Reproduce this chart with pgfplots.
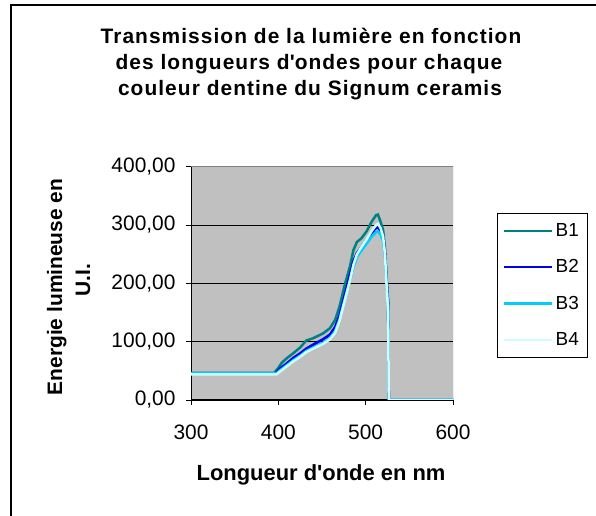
\documentclass[border=0pt]{standalone}
\usepackage{pgfplots}
\pgfplotsset{compat=1.18}
\usepackage{fontspec}
\setmainfont{Liberation Sans}
\newfontfamily\titlefont[LetterSpace=5]{Liberation Sans}
\definecolor{plotbg}{RGB}{192,192,192}
\definecolor{framegray}{RGB}{128,128,128}
\definecolor{cB1}{RGB}{0,128,128}
\definecolor{cB2}{RGB}{0,0,235}
\definecolor{cB3}{RGB}{0,204,255}
\definecolor{cB4}{RGB}{204,255,255}
\begin{document}
\begin{tikzpicture}
\useasboundingbox (0,0) rectangle (596bp,516bp);
\fill[white] (0,0) rectangle (596bp,516bp);
\draw[line width=1.5bp] (11bp,0) -- (11bp,511bp) -- (596bp,511bp);
\node[anchor=base, font=\titlefont\bfseries\fontsize{21}{24}\selectfont] at (311bp,472bp) {Transmission de la lumière en fonction};
\node[anchor=base, font=\titlefont\bfseries\fontsize{21}{24}\selectfont] at (309bp,446bp) {des longueurs d\textquotesingle ondes pour chaque};
\node[anchor=base, font=\titlefont\bfseries\fontsize{21}{24}\selectfont] at (310bp,420bp) {couleur dentine du Signum ceramis};
\node[anchor=base, rotate=90, font=\bfseries\fontsize{21}{24}\selectfont] at (62bp,229bp) {Energie lumineuse en};
\node[anchor=base, rotate=90, font=\bfseries\fontsize{21}{24}\selectfont] at (90bp,236bp) {U.I.};
\node[anchor=base, font=\bfseries\fontsize{22}{25}\selectfont] at (321bp,36bp) {Longueur d\textquotesingle onde en nm};
\begin{axis}[
  at={(191bp,116bp)}, anchor=south west,
  scale only axis, width=262bp, height=233.3bp,
  xmin=300, xmax=600, ymin=0, ymax=400,
  axis background/.style={fill=plotbg},
  axis lines*=left,
  axis line style={black, line width=1bp},
  xtick={300,400,500,600}, ytick={0,100,200,300,400},
  ymajorgrids, grid style={black, line width=0.8bp},
  tick align=outside, major tick length=5bp,
  tick style={black, line width=0.8bp},
  /pgf/number format/assume math mode=true,
  ticklabel style={font=\fontsize{21}{24}\selectfont},
  y tick label style={xshift=-7bp, /pgf/number format/.cd, fixed, fixed zerofill, precision=2, use comma, 1000 sep={}},
  x tick label style={yshift=-16bp, /pgf/number format/1000 sep={}},
  legend style={at={(1.168,0.80)}, anchor=north west, draw=black, fill=white,
    font=\fontsize{19}{22}\selectfont, row sep=17.7bp, inner xsep=6bp, inner ysep=8bp},
  legend cell align=left,
  legend image code/.code={\draw[#1] (0bp,0bp) -- (48bp,0bp);},
]
\addplot[cB1, line width=2.5bp] coordinates {
(300,46) (395,46) (400,55) (404,64) (410,72) (417,80) (425,90) (432,102) (440,106)
(451,114) (459,123) (465,137) (470,160) (476,197) (482,229) (486,257) (490,271)
(495,277) (501,289) (507,306) (512,317) (514,318) (517,306) (520,291) (522,263)
(524,211) (525.7,171) (526.5,0) (600,0)};
\addlegendentry{B1}
\addplot[cB2, line width=2.5bp] coordinates {
(300,46) (397,46) (402,54) (410,63) (417,72) (425,80) (432,88) (440,95) (451,104)
(459,112) (465,125) (470,145) (476,180) (482,215) (486,238) (490,252) (495,262)
(501,274) (507,287) (512,295) (514,296) (517,290) (520,278) (522,255) (524,205)
(525.7,165) (526.5,0) (600,0)};
\addlegendentry{B2}
\addplot[cB3, line width=2.5bp] coordinates {
(300,46) (398,46) (403,52) (410,60) (417,68) (425,76) (432,84) (440,90) (451,98)
(459,106) (465,118) (470,138) (476,172) (482,205) (486,228) (490,245) (495,256)
(501,268) (507,280) (512,288) (514,289) (517,284) (520,272) (522,250) (524,200)
(525.7,160) (526.5,0) (600,0)};
\addlegendentry{B3}
\addplot[cB4, line width=2.5bp] coordinates {
(300,44) (398,44) (403,50) (410,58) (417,66) (425,74) (432,82) (440,88) (451,96)
(459,104) (465,115) (470,135) (476,170) (482,205) (486,232) (490,250) (495,262)
(501,275) (507,290) (512,300) (514,302) (517,295) (520,280) (522,252) (524,195)
(525.7,150) (526.5,0) (600,0)};
\addlegendentry{B4}
\draw[framegray, line width=1bp] (rel axis cs:0,1) -- (rel axis cs:1,1) -- (rel axis cs:1,0);
\end{axis}
\end{tikzpicture}
\end{document}
